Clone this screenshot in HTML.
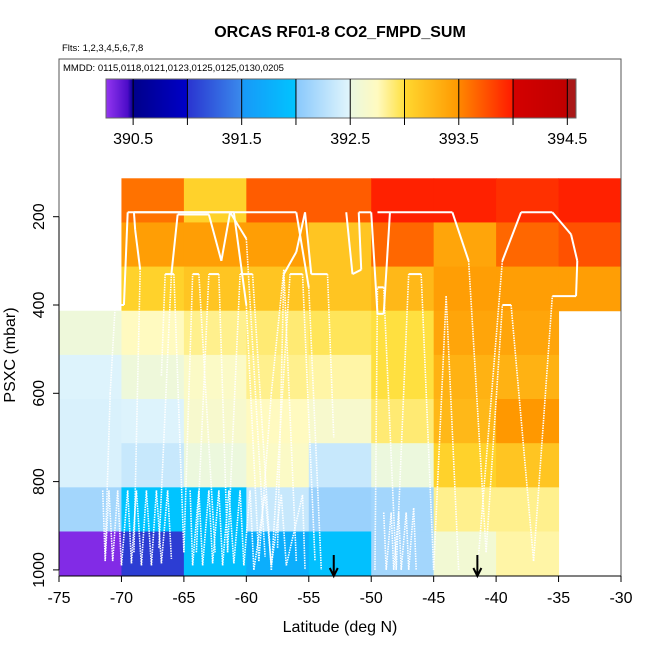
<!DOCTYPE html>
<html><head><meta charset="utf-8"><style>
html,body{margin:0;padding:0;background:#fff;}
svg text{font-family:"Liberation Sans",Arial,sans-serif;}
</style></head><body>
<svg id="chart" width="650" height="650" viewBox="0 0 650 650" xmlns="http://www.w3.org/2000/svg">
<rect width="650" height="650" fill="#fff"/>
<text x="340" y="37" text-anchor="middle" font-size="16" font-weight="bold">ORCAS RF01-8 CO2_FMPD_SUM</text>
<text x="62" y="51" font-size="9.5">Flts: 1,2,3,4,5,6,7,8</text>
<g id="cells"></g>
<g id="tracks"></g>
<g id="arrows"></g>
<g id="cbar"></g>
<text x="63" y="71" font-size="9.5">MMDD: 0115,0118,0121,0123,0125,0125,0130,0205</text>
<rect x="59" y="59" width="562" height="517" fill="none" stroke="#555" stroke-width="1"/>
<g id="axes"></g>
<text x="340" y="632" text-anchor="middle" font-size="16">Latitude (deg N)</text>
<text transform="translate(15,355) rotate(-90)" text-anchor="middle" font-size="16">PSXC (mbar)</text>
</svg>
<script>
// ---- data ----
const latEdges = [-75,-70,-65,-60,-55,-50,-45,-40,-35,-30];
const pEdges = [113,213,313,413,513,613,713,813,913,1013];
// CO2 values per pressure row (top to bottom), per latitude column; null = no data
const row0 = [null,393.6,393.05,393.7,393.7,393.97,393.97,393.9,393.97];
const row1 = [null,393.45,393.45,393.45,393.15,393.65,393.4,393.65,393.75];
const row2 = [null,393.05,393.15,393.15,393.15,393.25,393.45,393.45,393.45];
const row3 = [392.55,392.75,392.85,392.9,392.95,393.0,393.4,393.4,null];
const row4 = [392.47,392.55,392.7,392.85,392.8,393.0,393.3,393.3,null];
const row5 = [392.45,392.47,392.65,392.75,392.65,392.9,393.25,393.5,null];
const row6 = [392.45,392.35,392.52,392.7,392.35,392.52,393.05,393.15,null];
const row7 = [392.15,392.0,391.98,392.35,392.1,392.15,392.85,392.85,null];
const row8 = [390.3,391.05,391.95,391.75,391.95,392.15,392.6,392.8,null];
const cellRows = [row0,row1,row2,row3,row4,row5,row6,row7,row8];
const cbarTicks = [390.5,391.5,392.5,393.5,394.5];
const cbarBreaks = [390.5,391,391.5,392,392.5,393,393.5,394,394.5];
const xTicks = [-75,-70,-65,-60,-55,-50,-45,-40,-35,-30];
const yTicks = [200,400,600,800,1000];
const arrowLats = [-53,-41.5];
// flight tracks: [lat, pressure] vertices
const tracks = [
 [[-71.3,960],[-70.9,600],[-70.5,400],[-69.8,400],[-69.5,190],[-56,190],[-55,360],[-54,1000]],
 [[-69,960],[-68.5,320],[-68.9,230],[-69,190],[-61,190],[-60,400],[-59,980],[-58,600],[-57,320],[-56,980]],
 [[-67,950],[-66,330],[-65.5,195],[-63,195],[-62,300],[-61.3,190],[-60,250],[-58.5,970]],
 [[-64,960],[-63,330],[-62.2,330],[-61.5,960],[-60.5,330],[-59.5,330],[-58,1000],[-56.5,330],[-55.5,330],[-54.5,980]],
 [[-49.5,190],[-43.5,190],[-42.2,300],[-40.8,960],[-39.5,400],[-38.8,400],[-37,980],[-35.5,380],[-33.6,380],[-33.5,300],[-34,240],[-35.5,190],[-38,190],[-39.5,300],[-41.5,1000]],
 [[-49.7,1000],[-49.5,360],[-49,360],[-48,1000],[-47,330],[-46,330],[-45,1000],[-44,380],[-43,1000]],
 [[-52,190],[-51.5,330],[-50.8,320],[-51,190],[-50,190],[-49.5,420],[-49,420],[-48.5,190]],
 [[-66.8,560],[-66.5,330],[-65.8,330],[-65,960],[-64.3,330],[-63.8,330],[-62.5,960]],
 [[-57.5,950],[-57,330],[-56,280],[-55.3,190],[-54.8,330],[-53.5,330],[-53,700]],
 [[-71.5,820],[-71.3,980],[-71,820],[-70.7,980],[-70.3,820],[-70,990],[-69.5,820],[-69.2,985],[-68.8,820],[-68.4,990],[-68,820],[-67.6,990],[-67.2,820],[-66.8,985],[-66.3,820],[-66,975]],
 [[-64.5,820],[-64.3,990],[-63.8,820],[-63.5,990],[-63,820],[-62.7,985],[-62.2,820],[-61.9,990],[-61.4,820],[-61,985],[-60.5,820],[-60.2,990],[-59.7,820],[-59.4,1000],[-58.5,830],[-58,990],[-57.2,830],[-56.8,990],[-55.5,830],[-55.3,1000]],
 [[-49,870],[-48.8,1000],[-48.4,870],[-48.2,1000],[-47.8,870],[-47.6,1000],[-47.2,870],[-47,1000],[-46.6,860],[-46.4,1000]]
];
// ---- scales ----
const X0=59,X1=621;
function xs(lat){return X0+(lat+75)/45*(X1-X0);}
function ys(p){return 216.7+(p-200)*0.4415;}
const CB0=106,CB1=576,CV0=390.25,CV1=394.58;
function cbx(v){return CB0+(v-CV0)/(CV1-CV0)*(CB1-CB0);}
const stops=[[390.25,"#9436f0"],[390.45,"#4c0cc8"],[390.5,"#00008a"],[391.0,"#0000c8"],[391.0,"#2a34d0"],[391.5,"#3a8aec"],[391.5,"#1898f8"],[392.0,"#00c4ff"],[392.0,"#88c8fc"],[392.5,"#e2f6fc"],[392.5,"#eaf8e0"],[392.75,"#fffac0"],[393.0,"#ffe040"],[393.0,"#ffd830"],[393.5,"#ff9800"],[393.5,"#ff8800"],[394.0,"#ff1a00"],[394.0,"#d40000"],[394.5,"#c00000"],[394.5,"#aa1818"],[394.58,"#aa1818"]];
function hex(c){return [1,3,5].map(i=>parseInt(c.substr(i,2),16));}
function color(v){
  for(let i=0;i<stops.length-1;i++){
    const a=stops[i],b=stops[i+1];
    if(v>=a[0]&&v<=b[0]&&b[0]>a[0]){
      const t=(v-a[0])/(b[0]-a[0]);const ca=hex(a[1]),cb=hex(b[1]);
      return "rgb("+ca.map((x,k)=>Math.round(x+(cb[k]-x)*t)).join(",")+")";
    }
  }
  return v<CV0?stops[0][1]:stops[stops.length-1][1];
}
const NS="http://www.w3.org/2000/svg";
function mk(tag,attrs,parent){const e=document.createElementNS(NS,tag);for(const k in attrs)e.setAttribute(k,attrs[k]);parent.appendChild(e);return e;}
// cells
const gC=document.getElementById("cells");
cellRows.forEach((row,r)=>row.forEach((v,c)=>{
  if(v===null)return;
  const x=xs(latEdges[c]),y=ys(pEdges[r]);
  const e=mk("rect",{x:x,y:y,width:xs(latEdges[c+1])-x+0.5,height:ys(pEdges[r+1])-y+0.5,fill:color(v)},gC);
  
  
}));
// tracks
const gT=document.getElementById("tracks");
tracks.forEach(t=>{
  for(let i=0;i<t.length-1;i++){
    const a=t[i],b=t[i+1];
    const solid=a[1]<450&&b[1]<450;
    const e=mk("line",{x1:xs(a[0]),y1:ys(a[1]),x2:xs(b[0]),y2:ys(b[1]),stroke:"#fff","stroke-width":solid?2:1.6,"stroke-dasharray":solid?"none":"1.5 1"},gT);
    
    
  }
});
// arrows
const gA=document.getElementById("arrows");
arrowLats.forEach(l=>{
  const x=xs(l);
  const e=mk("path",{d:`M${x},555 L${x},576 M${x-4},568 L${x},576 L${x+4},568`,stroke:"#000","stroke-width":2,fill:"none"},gA);
  
  
});
// colorbar
const gB=document.getElementById("cbar");
const frame=mk("rect",{x:59,y:59,width:562,height:100,fill:"#fff",stroke:"none"},gB);


for(let px=CB0;px<CB1;px++){
  const v=CV0+(px+0.5-CB0)/(CB1-CB0)*(CV1-CV0);
  const e=mk("rect",{x:px,y:79,width:1.2,height:39,fill:color(v)},gB);
  
  
}
const cbo=mk("rect",{x:CB0,y:79,width:CB1-CB0,height:39,fill:"none",stroke:"#666","stroke-width":1},gB);


cbarBreaks.forEach(v=>{
  const e=mk("line",{x1:cbx(v),y1:79,x2:cbx(v),y2:125,stroke:"#000","stroke-width":1},gB);
  
  
});
cbarTicks.forEach(v=>{
  const e=mk("text",{x:cbx(v),y:144,"text-anchor":"middle","font-size":"16"},gB);
  e.textContent=v.toFixed(1);
  
  
});
// axes
const gX=document.getElementById("axes");
xTicks.forEach(v=>{
  const x=xs(v);
  const l=mk("line",{x1:x,y1:576,x2:x,y2:582,stroke:"#000"},gX);
  
  
  const t=mk("text",{x:x,y:603,"text-anchor":"middle","font-size":"16"},gX);
  t.textContent=v;
  
  
});
const xl=mk("line",{x1:X0,y1:576,x2:X1,y2:576,stroke:"#000"},gX);


yTicks.forEach(v=>{
  const y=ys(v);
  const l=mk("line",{x1:53,y1:y,x2:59,y2:y,stroke:"#000"},gX);
  
  
  const t=mk("text",{transform:`translate(44,${y}) rotate(-90)`,"text-anchor":"middle","font-size":"16"},gX);
  t.textContent=v;
  
  
});
const yl=mk("line",{x1:59,y1:ys(200),x2:59,y2:ys(1000),stroke:"#000"},gX);


</script>
</body></html>
